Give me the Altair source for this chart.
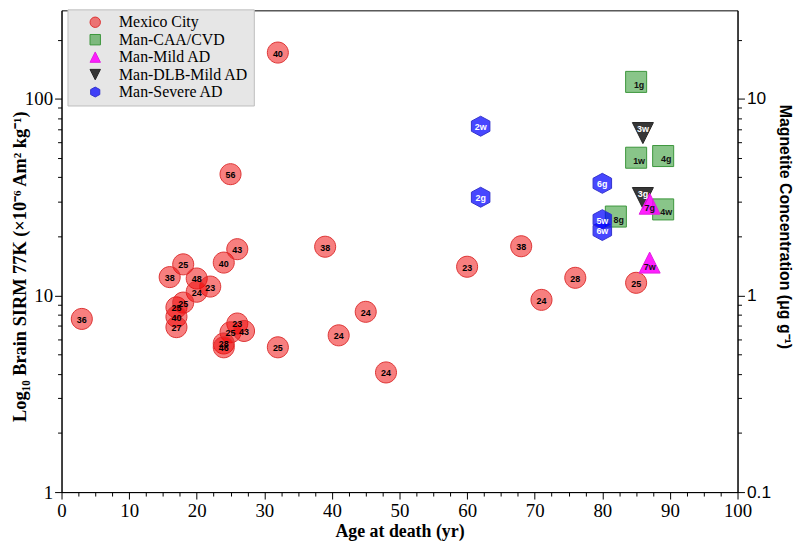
import altair as alt
import pandas as pd

groups = ["Mexico City", "Man-CAA/CVD", "Man-Mild AD", "Man-DLB-Mild AD", "Man-Severe AD"]

# Mexico City
mx_age = [3, 18, 16, 20, 22, 20, 24, 26, 17, 18, 17, 17, 26, 25, 27, 24, 24, 32, 32, 25, 39, 41, 45, 48, 60, 68, 71, 76, 85]
mx_sirm = [7.6, 14.4, 12.4, 12.2, 11.1, 10.45, 14.7, 17.2, 8.7, 9.2, 7.8, 6.9, 7.2, 6.5, 6.6, 5.7, 5.45, 5.45, 172, 41.4, 17.7, 6.27, 8.26, 4.06, 14.0, 17.8, 9.5, 12.3, 11.6]
mx_label = ["36", "25", "38", "48", "23", "24", "40", "43", "25", "25", "40", "27", "23", "25", "43", "28", "46", "25", "40", "56", "38", "24", "24", "24", "23", "38", "24", "28", "25"]

# Man-CAA/CVD
caa_age = [85, 85, 89, 89, 82]
caa_sirm = [122, 50.2, 51.2, 27.4, 25.2]
caa_label = ["1g", "1w", "4g", "4w", "8g"]

# Man-Severe AD
sev_age = [62, 62, 80, 80, 80]
sev_sirm = [72.6, 31.6, 37.2, 21.4, 24.3]
sev_label = ["2w", "2g", "6g", "6w", "5w"]

# Man-DLB-Mild AD
dlb_age = [86, 86]
dlb_sirm = [67, 31.3]
dlb_label = ["3w", "3g"]

# Man-Mild AD
mild_age = [87, 87]
mild_sirm = [29.3, 14.7]
mild_label = ["7g", "7w"]

x_ticks = [i * 2.5 for i in range(41)]
y_ticks = [1, 2, 3, 4, 5, 6, 7, 8, 9, 10, 20, 30, 40, 50, 60, 70, 80, 90, 100, 200]

rows = []
def add(g, ages, vals, labs):
    for a, v, l in zip(ages, vals, labs):
        rows.append({"group": g, "age": a, "sirm": v, "label": l})

add("Mexico City", mx_age, mx_sirm, mx_label)
add("Man-CAA/CVD", caa_age, caa_sirm, caa_label)
add("Man-Severe AD", sev_age, sev_sirm, sev_label)
add("Man-DLB-Mild AD", dlb_age, dlb_sirm, dlb_label)
add("Man-Mild AD", mild_age, mild_sirm, mild_label)
df = pd.DataFrame(rows)

fills = ["rgba(240,0,0,0.5)", "rgba(20,140,20,0.5)", "rgba(255,0,255,0.88)", "rgba(20,20,20,0.85)", "rgba(0,0,255,0.72)"]
strokes = ["#DD3333", "#3C963C", "#E020E0", "#222222", "#3333CC"]
shapes = [
    "M1,0A1,1,0,1,1,-1,0A1,1,0,1,1,1,0Z",
    "M-1,-1L1,-1L1,1L-1,1Z",
    "M0,-1L1,1L-1,1Z",
    "M-1,-1L1,-1L0,1Z",
    "M0,-0.95L0.88,-0.48L0.88,0.48L0,0.95L-0.88,0.48L-0.88,-0.48Z",
]

legend = alt.Legend(
    title=None, orient="none", legendX=6, legendY=-1,
    fillColor="#E6E6E6", strokeColor="#BDBDBD", padding=5,
    symbolSize=110, symbolStrokeWidth=1, symbolOffset=15, labelOffset=16,
    labelFont="Liberation Serif", labelFontSize=16, labelColor="black",
    rowPadding=1.6, labelLimit=400,
    labelExpr="datum.label + '\u2003'",
)

x_enc = alt.X(
    "age:Q",
    scale=alt.Scale(domain=[0, 100], nice=False, zero=False),
    axis=alt.Axis(
        values=x_ticks, format="d",
        labelExpr="datum.value % 10 === 0 ? datum.label : ''",
        tickSize={"condition": {"test": "datum.value % 10 === 0", "value": 7}, "value": 4},
        labelFont="Liberation Serif", labelFontSize=19, labelColor="black",
        labelFlush=False, labelOverlap=False, labelPadding=3,
        tickColor="black", domainColor="black", grid=False,
        title="Age at death (yr)", titleFont="Liberation Serif", titleFontSize=18,
        titleFontWeight="bold", titleColor="black", titlePadding=2,
    ),
)

y_scale = alt.Scale(type="log", domain=[1, 282], nice=False)

y_left = alt.Y(
    "sirm:Q", scale=y_scale,
    axis=alt.Axis(
        orient="left", values=y_ticks, format="d",
        labelExpr="datum.value == 1 || datum.value == 10 || datum.value == 100 ? datum.label : ''",
        tickSize={"condition": {"test": "datum.value == 1 || datum.value == 10 || datum.value == 100", "value": 7}, "value": 4},
        labelFont="Liberation Serif", labelFontSize=19, labelColor="black",
        labelFlush=False, labelOverlap=False, labelPadding=2,
        tickColor="black", domainColor="black", grid=False,
        title="Log\u2081\u2080 Brain SIRM 77K (\u00d710\u207b\u2076 Am\u00b2 kg\u207b\u00b9)",
        titleFont="Liberation Serif", titleFontSize=18.5, titleFontWeight="bold",
        titleColor="black", titleX=-42, titleY=258, titleBaseline="middle",
    ),
)

y_right = alt.Y(
    "sirm:Q", scale=y_scale,
    axis=alt.Axis(
        orient="right", values=y_ticks, format="d",
        labelExpr="datum.value == 1 ? '0.1' : datum.value == 10 ? '1' : datum.value == 100 ? '10' : ''",
        tickSize={"condition": {"test": "datum.value == 1 || datum.value == 10 || datum.value == 100", "value": 7}, "value": 4},
        labelFont="Liberation Sans", labelFontSize=17.5, labelColor="black",
        labelFlush=False, labelOverlap=False, labelPadding=2,
        tickColor="black", domainColor="black", grid=False,
        title="Magnetite Concentration (\u03bcg g\u207b\u00b9)",
        titleFont="Liberation Sans", titleFontSize=16, titleFontWeight="bold",
        titleColor="black", titleAngle=90, titleX=47, titleY=218, titleBaseline="middle",
    ),
)

y_none = alt.Y("sirm:Q", scale=y_scale, axis=None)

points = alt.Chart(df).mark_point(filled=True, size=450, strokeWidth=1, opacity=1).encode(
    x=x_enc, y=y_left,
    fill=alt.Fill("group:N", scale=alt.Scale(domain=groups, range=fills), legend=legend),
    stroke=alt.Stroke("group:N", scale=alt.Scale(domain=groups, range=strokes), legend=legend),
    shape=alt.Shape("group:N", scale=alt.Scale(domain=groups, range=shapes), legend=legend),
)

def txt(group, color, dx, dy):
    return alt.Chart(df).transform_filter(alt.datum.group == group).mark_text(
        font="Liberation Sans", fontWeight="bold", fontSize=9, color=color,
        dx=dx, dy=dy, baseline="middle", align="center",
    ).encode(x=x_enc, y=y_none, text="label:N")

t_mx = txt("Mexico City", "black", 0, 1)
t_caa = txt("Man-CAA/CVD", "#111111", 3, 3)
t_sev = txt("Man-Severe AD", "white", 0, 1)
t_dlb = txt("Man-DLB-Mild AD", "white", 0, -4)
t_mild = txt("Man-Mild AD", "#111111", 0, 4)

right = alt.Chart(df).mark_point(opacity=0).encode(x=x_enc, y=y_right)

chart = alt.layer(points, t_mx, t_caa, t_sev, t_dlb, t_mild, right).resolve_axis(
    y="independent"
).properties(
    width=682, height=486,
    autosize=alt.AutoSizeParams(type="none"),
    padding={"left": 54, "top": 0, "right": 60, "bottom": 50},
).configure_view(stroke="black", strokeWidth=1)

chart.save("out.html", embed_options={"renderer": "svg", "actions": False})
